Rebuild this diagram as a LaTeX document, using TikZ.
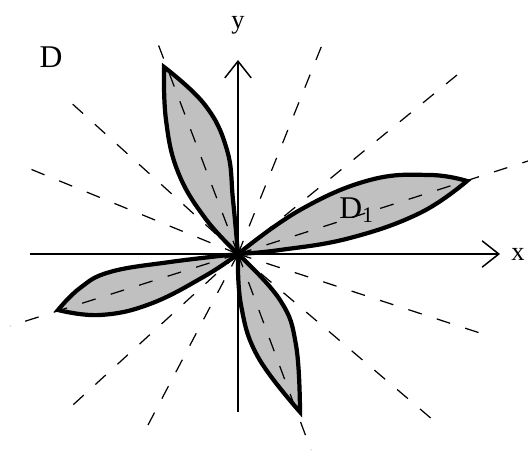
\documentclass[tikz,border=0pt]{standalone}
\usepackage{fontspec}
\setmainfont{Liberation Serif}
\usetikzlibrary{arrows.meta, positioning}
\definecolor{petalgray}{RGB}{192,192,192}
\tikzstyle{axis} = [line width=0.85pt, -{Straight Barb[length=9.5pt, width=15pt, line width=0.85pt]}]
\tikzstyle{petal} = [line width=2.4pt, draw=black, fill=petalgray]
\tikzstyle{ray} = [line width=0.7pt, dash pattern=on 8pt off 9pt]
\tikzstyle{axislabel} = [inner sep=0pt, font=\fontsize{15}{17}\selectfont]
\tikzstyle{region} = [inner sep=0pt, font=\fontsize{18}{20}\selectfont]

\begin{document}
\begin{tikzpicture}[x=0.02cm, y=-0.02cm]
    \useasboundingbox (0,0) rectangle (528,453);
    \coordinate (O) at (238,254);

    % Petals
    \draw [petal] plot[smooth, tension=0.7] coordinates {(O) (205,218) (178,172) (166,120) (164,67)}
        -- plot[smooth, tension=0.7] coordinates {(164,67) (205,105) (227,150) (233,200) (O)} -- cycle;
    \draw [petal] plot[smooth, tension=0.7] coordinates {(O) (300,210) (370,180) (430,175) (467,181)}
        -- plot[smooth, tension=0.7] coordinates {(467,181) (420,213) (350,238) (280,250) (O)} -- cycle;
    \draw [petal] plot[smooth, tension=0.7] coordinates {(O) (170,262) (110,272) (80,288) (58,310)}
        -- plot[smooth, tension=0.7] coordinates {(58,310) (100,315) (150,304) (205,276) (O)} -- cycle;
    \draw [petal] plot[smooth, tension=0.7] coordinates {(O) (241,305) (258,357) (300,412)}
        -- plot[smooth, tension=0.7] coordinates {(300,412) (296,345) (280,300) (O)} -- cycle;

    % Dashed rays
    \foreach \i/\ex/\ey in {1/528/161, 2/457/75, 3/322/45, 4/155/36, 5/67/99, 6/23/166,
                            7/10/326, 8/62/415, 9/148/425, 10/311/450, 11/433/420, 12/483/334} {
        \coordinate (r\i) at (\ex,\ey);
        \draw [ray] (O) -- (r\i);
    }

    % Axes
    \coordinate (xstart) at (30,254);
    \coordinate (xend) at (500,254);
    \coordinate (ystart) at (238,412);
    \coordinate (yend) at (238,60);
    \draw [axis] (xstart) -- (xend);
    \draw [axis] (ystart) -- (yend);

    % Labels
    \node (xlabel) [axislabel, right=0.22cm of xend] {x};
    \node (ylabel) [axislabel, above=0.5cm of yend] {y};
    \node (dlabel) [region] at (51,57) {D};
    \node (donelabel) [region, anchor=west] at (339,210) {D\textsubscript{1}};
\end{tikzpicture}
\end{document}
